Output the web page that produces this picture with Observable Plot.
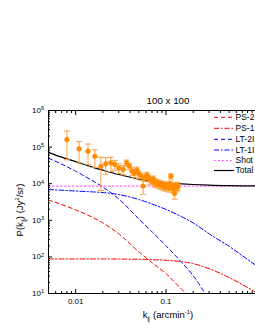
<!DOCTYPE html>
<html><head><meta charset="utf-8">
<script src="https://cdn.jsdelivr.net/npm/d3@7"></script>
<script src="https://cdn.jsdelivr.net/npm/@observablehq/plot@0.6"></script>
<style>
html,body{margin:0;padding:0;background:#fff;overflow:hidden;width:255px;height:330px;}
#chart{width:290px;height:330px;}
</style></head><body><div id="chart"></div>
<script>
// ---- model curves ----
const modelK = [0.005,0.007,0.01,0.015,0.02,0.03,0.05,0.07,0.1,0.15,0.2,0.3,0.5,0.7,1,1.5,2];
const ps2   = [3580,2700,1920,1240,849,427,138,69.5,34.9,12.8,6.5,null,null,null,null,null,null];
const ps1   = [88,88,88,88,88,87.5,86,84,81,74,65.3,47.8,27.2,17.6,10.6,5.7,3.5];
const lt2   = [49700,34100,22000,12500,8090,3820,1090,484,201,69.5,30.8,6.5,null,null,null,null,null];
const lt1   = [6920,6620,6300,5990,5730,5050,3700,2790,1980,1240,849,427,195,108,57.7,29,17.6];
const shot  = [8600,8600,8600,8600,8600,8600,8600,8600,8600,8600,8600,8600,8600,8600,8600,8600,8600];
const total = [72000,53000,40000,28700,23400,17800,13400,11600,10600,9900,9500,9100,8820,8720,8670,8640,8620];

// ---- measured points ----
const pointK = [0.0080,0.0109,0.0137,0.0163,0.0190,0.0215,0.0245,0.0271,0.0300,0.0336,0.0366,0.0393,0.0420,0.0448,0.0475,0.0503,0.0530,0.0558,0.0585,0.0613,0.0640,0.0668,0.0695,0.0723,0.0750,0.0778,0.0805,0.0833,0.0860,0.0888,0.0915,0.0943,0.0970,0.0998,0.1025,0.1053,0.1080,0.1108,0.1135,0.1163,0.1190,0.1218,0.1245,0.1273,0.1300,0.1328,0.1355];
const pointP = [160000,89000,77000,56000,29500,34700,37000,33400,27000,24500,37000,30000,22000,19000,23500,18000,16000,8600,14500,17000,14300,12500,11800,13300,10300,11000,9800,10300,9100,9800,8600,9100,8100,9100,8100,8600,7600,9800,16000,8100,7200,8600,5400,8600,7600,9100,8100];
const pointErr = [115000,52000,44000,28000,23000,16500,15500,10000,8000,7000,7000,6000,5000,4500,5000,4000,3500,3500,3000,3500,3000,2800,2600,2800,2300,2400,2200,2200,2000,2100,1900,2000,1800,1900,1800,1800,1700,2000,2500,1700,1600,1800,1600,1700,1600,1800,1700];

// ---- axes ----
const majorX = [0.01,0.1,1];
const labeledX = [0.01,0.1];
const majorXLabels = ["0.01","0.1"];
const minorX = [0.006,0.007,0.008,0.009,0.02,0.03,0.04,0.05,0.06,0.07,0.08,0.09,0.2,0.3,0.4,0.5,0.6,0.7,0.8,0.9,2];
const majorY = [10,100,1000,10000,100000,1000000];
const minorMult = [2,3,4,5,6,7,8,9];
const minorY = majorY.slice(0,-1).flatMap(d => minorMult.map(m => d*m));

const title = "100 x 100";
const seriesNames = ["PS-2","PS-1","LT-2I","LT-1I","Shot","Total"];
const seriesColors = ["#ff0000","#ff0000","#0000ff","#0000ff","#ff33ff","#000000"];
const seriesDash = ["4,3","5,2,1.5,2","4,3","5,2,1.5,2","1.5,2.5",null];
const seriesValues = [ps2, ps1, lt2, lt1, shot, total];

const orange = "#ff8c00";
const errColor = "#f7a24a";

const pts = pointK.map((k,i)=>({k, p: pointP[i], lo: pointP[i]-pointErr[i], hi: pointP[i]+pointErr[i]}));
const capSymbol = {draw(ctx){ ctx.moveTo(-3,0); ctx.lineTo(3,0); }};

const lineMarks = seriesValues.map((vals, j) => {
  const data = modelK.map((k,i)=>({k, v: vals[i]})).filter(d => d.v != null);
  return Plot.line(data, {x:"k", y:"v", stroke: seriesColors[j], strokeWidth: j===5 ? 1.2 : 1,
    strokeDasharray: seriesDash[j], curve:"monotone-x", clip: true});
});

const chart = Plot.plot({
  width: 290, height: 330,
  marginLeft: 48, marginRight: 7, marginTop: 110, marginBottom: 37,
  x: {type:"log", domain:[0.005,2]},
  y: {type:"log", domain:[10,1e6]},
  style: {fontFamily:"'Liberation Sans', Arial, sans-serif", fontSize:"8px", color:"black", background:"white", overflow:"visible"},
  marks: [
    ...lineMarks,
    Plot.ruleX(pts, {x:"k", y1:"lo", y2:"hi", stroke: errColor, strokeWidth: 1, clip: true}),
    Plot.dot(pts, {x:"k", y:"lo", symbol: capSymbol, stroke: errColor, strokeWidth: 1, fill:"none"}),
    Plot.dot(pts, {x:"k", y:"hi", symbol: capSymbol, stroke: errColor, strokeWidth: 1, fill:"none"}),
    Plot.dot(pts, {x:"k", y:"p", r: 2.4, fill: orange, stroke: orange, strokeWidth: 0.5}),
    Plot.frame({stroke:"black", strokeWidth: 1}),
    // x axis labels + inward ticks
    Plot.axisX({anchor:"bottom", ticks: labeledX, tickSize: 0, tickPadding: 5, tickFormat: d => majorXLabels[labeledX.indexOf(d)], label: null}),
    Plot.axisX({anchor:"bottom", ticks: majorX, tickSize: 4, dy: -4, fill:"none", label: null}),
    Plot.axisX({anchor:"bottom", ticks: minorX, tickSize: 2, dy: -2, fill:"none", label: null}),
    Plot.axisX({anchor:"top", ticks: majorX, tickSize: 4, dy: 4, fill:"none", label: null}),
    Plot.axisX({anchor:"top", ticks: minorX, tickSize: 2, dy: 2, fill:"none", label: null}),
    // y axis labels + inward ticks
    Plot.axisY({anchor:"left", ticks: majorY, tickSize: 0, tickPadding: 4.5, tickFormat: d => "10^" + Math.round(Math.log10(d)), label: null}),
    Plot.axisY({anchor:"left", ticks: majorY, tickSize: 4, dx: 4, fill:"none", label: null}),
    Plot.axisY({anchor:"left", ticks: minorY, tickSize: 2, dx: 2, fill:"none", label: null}),
    Plot.axisY({anchor:"right", ticks: majorY, tickSize: 4, dx: -4, fill:"none", label: null}),
    Plot.axisY({anchor:"right", ticks: minorY, tickSize: 2, dx: -2, fill:"none", label: null}),
    Plot.text([title], {frameAnchor:"top", dy: -13.5, dx: 2, fontSize: 9.8})
  ]
});
document.getElementById("chart").appendChild(chart);

const svg = d3.select(chart);
// superscript exponents on y tick labels
svg.selectAll('g[aria-label="y-axis tick label"] text').each(function(){
  const t = d3.select(this);
  const s = this.textContent;
  const m = s.match(/^10\^(\d+)$/);
  if (!m) return;
  t.text(null);
  t.append("tspan").text("10");
  t.append("tspan").attr("dy","-0.5em").attr("font-size","5.5px").text(m[1]);
});

const font = "'Liberation Sans', Arial, sans-serif";
// x axis title
const xl = svg.append("text").attr("x",168).attr("y",318).attr("text-anchor","middle")
  .attr("font-family",font).attr("font-size","9.5px").attr("fill","black");
xl.append("tspan").text("k");
xl.append("tspan").attr("dy","2.5").attr("font-size","6px").text("∥");
xl.append("tspan").attr("dy","-2.5").text(" (arcmin");
xl.append("tspan").attr("dy","-4").attr("font-size","6px").text("-1");
xl.append("tspan").attr("dy","4").text(")");

// y axis title
const yl = svg.append("text").attr("transform","translate(23,210) rotate(-90)").attr("text-anchor","middle")
  .attr("font-family",font).attr("font-size","9.5px").attr("fill","black");
yl.append("tspan").text("P(k");
yl.append("tspan").attr("dy","2.5").attr("font-size","6px").text("∥");
yl.append("tspan").attr("dy","-2.5").text(") (Jy");
yl.append("tspan").attr("dy","-4").attr("font-size","6px").text("2");
yl.append("tspan").attr("dy","4").text("/sr)");

// legend
const lg = svg.append("g").attr("font-family",font).attr("font-size","8.5px").attr("text-anchor","start");
const legendY = [117.3,128.3,139.3,150,160.5,170.5];
seriesNames.forEach((name,j) => {
  lg.append("line").attr("x1",214).attr("x2",234).attr("y1",legendY[j]).attr("y2",legendY[j])
    .attr("stroke",seriesColors[j]).attr("stroke-width", j===5 ? 1.2 : 1)
    .attr("stroke-dasharray", seriesDash[j]);
  lg.append("text").attr("x",235.5).attr("y",legendY[j]).attr("dy","0.35em").attr("text-anchor","start").attr("fill","black").text(name);
});
</script>
</body></html>
